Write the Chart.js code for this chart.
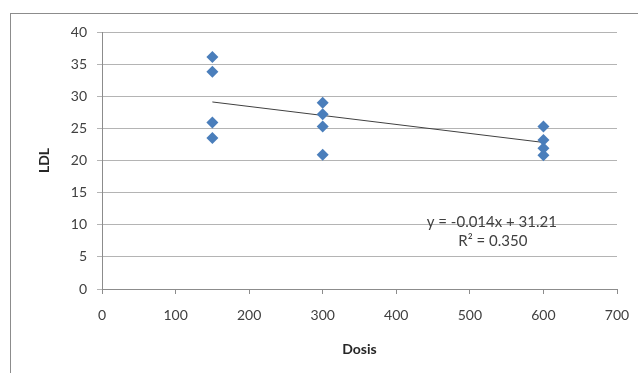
<!DOCTYPE html>
<html>
<head>
<meta charset="utf-8">
<script src="https://cdn.jsdelivr.net/npm/chart.js@4.4.1/dist/chart.umd.min.js"></script>
<style>
  html,body{margin:0;padding:0;background:#fff;}
  #wrap{position:relative;width:638px;height:373px;overflow:hidden;}
  #frame{position:absolute;left:10px;top:13px;width:700px;height:400px;border:1px solid #8c8c8c;box-sizing:border-box;}
  canvas{position:absolute;left:0;top:0;}
</style>
</head>
<body>
<div id="wrap">
  <div id="frame"></div>
  <canvas id="grafico" width="638" height="373"></canvas>
</div>
<script>
// dados
const dosis = [150,150,150,150, 300,300,300,300, 600,600,600,600];
const ldl   = [36.1,33.8,25.9,23.5, 29.0,27.2,25.3,20.9, 25.3,23.2,21.9,20.8];
const xTicks = [0,100,200,300,400,500,600,700];
const yTicks = [0,5,10,15,20,25,30,35,40];
// linha de tendência (equação mostrada no gráfico)
const slope = -0.014, intercept = 31.21;
const eqLines = ['y = -0.014x + 31.21', 'R\u00b2 = 0.350'];

const FONT = 'Lato, "Open Sans", sans-serif';
const pontos = dosis.map((x,i)=>({x, y: ldl[i]}));
const xMin = Math.min(...dosis), xMax = Math.max(...dosis);
const tendencia = [xMin, xMax].map(x=>({x, y: intercept + slope*x}));

// texto da equação, posicionado dentro da área do gráfico
const eqPlugin = {
  id:'eqPlugin',
  afterDatasetsDraw(chart){
    const {ctx, chartArea:a} = chart;
    ctx.save();
    ctx.font = '15px '+FONT;
    ctx.fillStyle = '#404040';
    ctx.textAlign = 'center'; ctx.textBaseline = 'middle';
    const cx = a.left + (a.right-a.left)*0.757;
    ctx.fillText(eqLines[0], cx, a.top + 190);
    ctx.fillText(eqLines[1], cx+1, a.top + 209);
    ctx.restore();
  }
};

new Chart(document.getElementById('grafico'), {
  type:'scatter',
  data:{ datasets:[
    { label:'LDL', data:pontos, pointStyle:'rectRot', pointRadius:6, pointHoverRadius:6,
      backgroundColor:'#4a7ebb', borderColor:'#4a7ebb', borderWidth:0 },
    { type:'line', label:'Tendência', data:tendencia, borderColor:'#404040', borderWidth:1,
      pointRadius:0, fill:false }
  ]},
  options:{
    responsive:false, animation:false,
    layout:{ padding:{ left:10, right:21, top:32, bottom:8 } },
    plugins:{ legend:{display:false}, tooltip:{enabled:false} },
    scales:{
      x:{ type:'linear', min:0, max:700,
        afterBuildTicks(s){ s.ticks = xTicks.map(v=>({value:v})); },
        afterFit(s){ s.height = 76; s.paddingLeft = 0; s.paddingRight = 0; },
        grid:{ drawOnChartArea:false, drawTicks:true, tickLength:5, color:'#8c8c8c' },
        border:{ color:'#8c8c8c' },
        ticks:{ font:{family:FONT, size:14}, color:'#404040', padding:13, maxRotation:0 },
        title:{ display:true, text:'Dosis', font:{family:FONT, size:14, weight:'bold'}, color:'#262626', padding:{top:0,bottom:7} }
      },
      y:{ type:'linear', min:0, max:40,
        afterBuildTicks(s){ s.ticks = yTicks.map(v=>({value:v})); },
        afterFit(s){ s.width = 92; s.paddingTop = 0; s.paddingBottom = 0; },
        grid:{ color:'#b4b4b4', tickLength:5 },
        border:{ color:'#8c8c8c' },
        ticks:{ font:{family:FONT, size:14}, color:'#404040', padding:10 },
        title:{ display:true, text:'LDL', font:{family:FONT, size:14, weight:'bold'}, color:'#262626', padding:{top:26,bottom:0} }
      }
    }
  },
  plugins:[eqPlugin]
});
</script>
</body>
</html>
